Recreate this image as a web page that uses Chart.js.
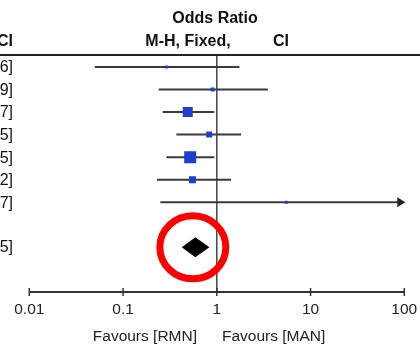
<!DOCTYPE html>
<html><head><meta charset="utf-8">
<script src="https://cdn.jsdelivr.net/npm/chart.js@4.4.1/dist/chart.umd.min.js"></script>
<style>html,body{margin:0;padding:0;background:#fff;overflow:hidden}#wrap{width:420px;height:345px;position:relative}</style>
</head><body><div id="wrap"><canvas id="c" width="420" height="345"></canvas></div>
<script>
// ---- data ----
const studyCIText = ['6]', '9]', '7]', '5]', '5]', '2]', '7]'];
const pooledCIText = ['5]'];
const oddsRatio = [0.29, 0.90, 0.49, 0.83, 0.52, 0.55, 5.5];
const ciLower = [0.05, 0.24, 0.265, 0.37, 0.29, 0.23, 0.25];
const ciUpper = [1.74, 3.5, 0.94, 1.82, 0.94, 1.42, 150];
const weights = [2.5, 4.4, 27.5, 9.9, 39.7, 13.5, 2.5];
const pooledOR = [0.59];
const pooledLower = [0.423];
const pooledUpper = [0.834];
const xTicks = [0.01, 0.1, 1, 10, 100];
const tickLabels = ['0.01', '0.1', '1', '10', '100'];
const headerTitle = 'Odds Ratio';
const headerMethod = 'M-H, Fixed,';
const headerCI = 'CI';
const favoursLeft = 'Favours [RMN]';
const favoursRight = 'Favours [MAN]';

const FONT = '"Liberation Sans", Arial, sans-serif';
const pooledRow = oddsRatio.length + 1;

const forestPlugin = {
  id: 'forest',
  beforeDatasetsDraw(chart) {
    const ctx = chart.ctx, xs = chart.scales.x, ys = chart.scales.y, ca = chart.chartArea;
    ctx.save();
    // header
    ctx.fillStyle = '#111';
    ctx.font = 'bold 16px ' + FONT;
    ctx.textBaseline = 'middle';
    ctx.textAlign = 'center';
    ctx.fillText(headerTitle, 215, 19);
    ctx.fillText(headerMethod, 188, 42);
    ctx.textAlign = 'left';
    ctx.fillText(headerCI, 273, 42);
    ctx.textAlign = 'right';
    ctx.fillText(headerCI, 13, 42);
    // top rule
    ctx.strokeStyle = '#222';
    ctx.lineWidth = 2;
    ctx.beginPath(); ctx.moveTo(0, ca.top); ctx.lineTo(chart.width, ca.top); ctx.stroke();
    // line of no effect
    const x1 = xs.getPixelForValue(1);
    ctx.strokeStyle = '#444';
    ctx.lineWidth = 1.5;
    ctx.beginPath(); ctx.moveTo(x1, ca.top + 1); ctx.lineTo(x1, ca.bottom); ctx.stroke();
    // CI lines
    ctx.strokeStyle = '#3a3a3a';
    ctx.fillStyle = '#222';
    ctx.lineWidth = 2;
    oddsRatio.forEach((v, i) => {
      const y = ys.getPixelForValue(i);
      const xa = xs.getPixelForValue(Math.max(ciLower[i], xs.min));
      const over = ciUpper[i] > xs.max;
      const xb = xs.getPixelForValue(Math.min(ciUpper[i], xs.max));
      ctx.beginPath(); ctx.moveTo(xa, y); ctx.lineTo(over ? xb - 6 : xb, y); ctx.stroke();
      if (over) {
        ctx.beginPath();
        ctx.moveTo(xb + 1, y); ctx.lineTo(xb - 7, y - 5); ctx.lineTo(xb - 7, y + 5); ctx.closePath();
        ctx.fill();
      }
    });
    // row CI text (clipped at left edge)
    ctx.fillStyle = '#111';
    ctx.font = '16px ' + FONT;
    ctx.textAlign = 'right';
    studyCIText.forEach((t, i) => ctx.fillText(t, 13, ys.getPixelForValue(i) + 1));
    ctx.fillText(pooledCIText[0], 13, ys.getPixelForValue(pooledRow));
    // x axis
    ctx.strokeStyle = '#333';
    ctx.lineWidth = 2;
    ctx.beginPath(); ctx.moveTo(ca.left, ca.bottom); ctx.lineTo(ca.right, ca.bottom); ctx.stroke();
    ctx.lineWidth = 1.5;
    ctx.font = '15.5px ' + FONT;
    ctx.fillStyle = '#222';
    ctx.textAlign = 'center';
    xTicks.forEach((t, i) => {
      const x = xs.getPixelForValue(t);
      ctx.beginPath(); ctx.moveTo(x, ca.bottom - 4); ctx.lineTo(x, ca.bottom + 4); ctx.stroke();
      ctx.fillText(tickLabels[i], x, 310);
    });
    ctx.textAlign = 'right';
    ctx.fillText(favoursLeft, 197, 337);
    ctx.textAlign = 'left';
    ctx.fillText(favoursRight, 222, 337);
    ctx.restore();
  },
  afterDatasetsDraw(chart) {
    const ctx = chart.ctx, xs = chart.scales.x, ys = chart.scales.y;
    ctx.save();
    const y = ys.getPixelForValue(pooledRow);
    const xl = xs.getPixelForValue(pooledLower[0]);
    const xm = xs.getPixelForValue(pooledOR[0]);
    const xr = xs.getPixelForValue(pooledUpper[0]);
    ctx.fillStyle = '#000';
    ctx.beginPath();
    ctx.moveTo(xl, y); ctx.lineTo(xm, y - 10); ctx.lineTo(xr, y); ctx.lineTo(xm, y + 10); ctx.closePath();
    ctx.fill();
    // red highlight ring around pooled estimate
    ctx.strokeStyle = '#f00';
    ctx.lineWidth = 7;
    ctx.beginPath();
    ctx.ellipse(xm - 2.5, y, 33, 31.5, 0, 0, Math.PI * 2);
    ctx.stroke();
    ctx.restore();
  }
};

const boxRadius = weights.map(w => 1.9 * Math.sqrt(w) / Math.SQRT2);

new Chart(document.getElementById('c'), {
  type: 'scatter',
  data: {
    datasets: [{
      label: 'Studies',
      data: oddsRatio.map((v, i) => ({ x: v, y: i })),
      pointStyle: 'rect',
      pointRadius: boxRadius,
      pointHoverRadius: boxRadius,
      backgroundColor: '#1b3fce',
      borderWidth: 0
    }]
  },
  options: {
    responsive: false,
    animation: false,
    events: [],
    layout: { padding: { left: 29.3, right: 15.7, top: 55, bottom: 53 } },
    plugins: { legend: { display: false }, tooltip: { enabled: false } },
    scales: {
      x: { type: 'logarithmic', min: 0.01, max: 100, display: false },
      y: { type: 'linear', min: -0.53, max: 9.98, reverse: true, display: false }
    }
  },
  plugins: [forestPlugin]
});
</script>
</body></html>
